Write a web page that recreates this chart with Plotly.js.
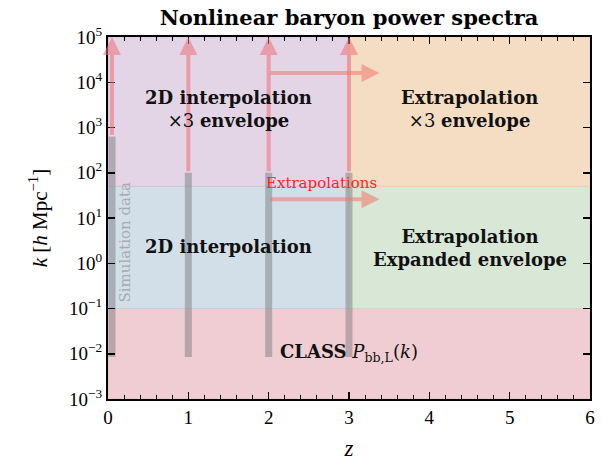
<!DOCTYPE html>
<html>
<head>
<meta charset="utf-8">
<script src="https://cdn.plot.ly/plotly-3.0.1.min.js"></script>
<style>html,body{margin:0;padding:0;background:#fff;}#chart{width:602px;height:461px;}</style>
</head>
<body>
<div id="chart"></div>
<script>
// ---- data ----
const regionZLo  = [0, 0, 0, 3, 3];
const regionZHi  = [6, 3, 3, 6, 6];
const regionKLo  = [1e-3, 0.1, 50, 0.1, 50];
const regionKHi  = [0.1, 50, 1e5, 50, 1e5];
const regionFill = ['rgb(240,205,210)', 'rgb(211,223,232)', 'rgb(227,213,230)', 'rgb(216,231,214)', 'rgb(245,221,196)'];
const regionEdge = ['rgb(228,190,196)', 'rgb(196,206,222)', 'rgb(212,196,216)', 'rgb(200,218,198)', 'rgb(236,208,180)'];

const simZ    = [0.05, 1, 2, 3];
const simKMin = [0.0085, 0.0085, 0.0085, 0.0085];
const simKMax = [630, 100, 100, 100];
const kTop    = 1e5;

const extrapZStart = 2;
const extrapZEnd   = 3.38;
const extrapK      = [16000, 26];

const labelText = [
  '<b>2D interpolation</b><br>×3 <b>envelope</b>',
  '<b>Extrapolation</b><br>×3 <b>envelope</b>',
  '<b>2D interpolation</b>',
  '<b>Extrapolation</b><br><b>Expanded envelope</b>',
  '<b>CLASS</b> <i>P</i><sub>bb,L</sub>(<i>k</i>)'
];
const labelZ = [1.5, 4.5, 1.5, 4.5, 3.0];
const labelK = [2600, 2600, 2.4, 2.2, 0.0105];

const xTickVals = [0, 1, 2, 3, 4, 5, 6];
const yTickExp  = [-3, -2, -1, 0, 1, 2, 3, 4, 5];

// ---- traces ----
const traces = [];
for (let i = 0; i < regionZLo.length; i++) {
  traces.push({
    type: 'scatter', mode: 'lines', hoverinfo: 'skip', showlegend: false,
    x: [regionZLo[i], regionZHi[i], regionZHi[i], regionZLo[i], regionZLo[i]],
    y: [regionKLo[i], regionKLo[i], regionKHi[i], regionKHi[i], regionKLo[i]],
    fill: 'toself', fillcolor: regionFill[i],
    line: {color: regionEdge[i], width: 1.2}
  });
}
for (let i = 0; i < simZ.length; i++) {
  traces.push({
    type: 'scatter', mode: 'lines', hoverinfo: 'skip', showlegend: false,
    x: [simZ[i], simZ[i]], y: [simKMin[i], simKMax[i]],
    line: {color: 'rgba(125,125,130,0.5)', width: 7}
  });
}

const font = 'Liberation Serif, DejaVu Serif, serif';
const wideFont = 'DejaVu Serif, serif';

const annotations = [];
const arrowColor = 'rgba(238,110,120,0.55)';
for (let i = 0; i < simZ.length; i++) {
  annotations.push({
    x: simZ[i], y: Math.log10(kTop), xref: 'x', yref: 'y',
    ax: simZ[i], ay: Math.log10(simKMax[i]), axref: 'x', ayref: 'y',
    text: '', showarrow: true, arrowhead: 2, arrowsize: 0.9, arrowwidth: 4,
    arrowcolor: arrowColor, standoff: 0
  });
}
for (let i = 0; i < extrapK.length; i++) {
  annotations.push({
    x: extrapZEnd, y: Math.log10(extrapK[i]), xref: 'x', yref: 'y',
    ax: extrapZStart, ay: Math.log10(extrapK[i]), axref: 'x', ayref: 'y',
    text: '', showarrow: true, arrowhead: 2, arrowsize: 0.9, arrowwidth: 4,
    arrowcolor: 'rgba(240,120,110,0.55)', standoff: 0
  });
}
for (let i = 0; i < labelText.length; i++) {
  annotations.push({
    x: labelZ[i], y: Math.log10(labelK[i]), xref: 'x', yref: 'y',
    text: labelText[i], showarrow: false,
    font: {family: wideFont, size: 18, color: '#111'},
    xanchor: 'center', yanchor: 'middle'
  });
}
annotations.push({
  x: 2.66, y: Math.log10(59), xref: 'x', yref: 'y',
  text: 'Extrapolations', showarrow: false,
  font: {family: wideFont, size: 15, color: 'rgb(245,40,40)'},
  xanchor: 'center', yanchor: 'middle'
});
annotations.push({
  x: 0.21, y: Math.log10(3.0), xref: 'x', yref: 'y',
  text: 'Simulation data', showarrow: false, textangle: -90,
  font: {family: wideFont, size: 15, color: 'rgb(168,170,175)'},
  xanchor: 'center', yanchor: 'middle'
});

const layout = {
  width: 602, height: 461,
  margin: {l: 108, r: 12, t: 37, b: 62},
  paper_bgcolor: '#fff', plot_bgcolor: '#fff',
  showlegend: false,
  title: {
    text: '<b>Nonlinear baryon power spectra</b>',
    font: {family: wideFont, size: 21, color: '#000'},
    xref: 'paper', x: 0.5, xanchor: 'center',
    yref: 'container', y: 0.962, yanchor: 'middle'
  },
  xaxis: {
    range: [0, 6], tickvals: xTickVals, ticks: 'inside', ticklen: 7, tickwidth: 1.5,
    tickcolor: '#000', showline: true, linecolor: '#000', linewidth: 2, mirror: 'allticks',
    showgrid: false, zeroline: false,
    minor: {dtick: 0.2, ticks: 'inside', ticklen: 4, tickwidth: 1, tickcolor: '#000', showgrid: false},
    tickfont: {family: font, size: 19, color: '#000'},
    title: {text: '<i>z</i>', font: {family: font, size: 23, color: '#000'}, standoff: 22}
  },
  yaxis: {
    type: 'log', range: [-3, 5],
    tickvals: yTickExp.map(e => Math.pow(10, e)),
    ticktext: yTickExp.map(e => '10<sup>' + String(e).replace('-', '−') + '</sup>'),
    ticks: 'inside', ticklen: 7, tickwidth: 1.5, tickcolor: '#000',
    showline: true, linecolor: '#000', linewidth: 2, mirror: 'allticks',
    showgrid: false, zeroline: false,
    tickfont: {family: font, size: 19, color: '#000'},
    title: {text: '<i>k</i> [<i>h</i> Mpc<sup>−1</sup>]', font: {family: font, size: 21, color: '#000'}, standoff: 16}
  },
  annotations: annotations
};

Plotly.newPlot('chart', traces, layout, {displayModeBar: false, staticPlot: true});
</script>
</body>
</html>
